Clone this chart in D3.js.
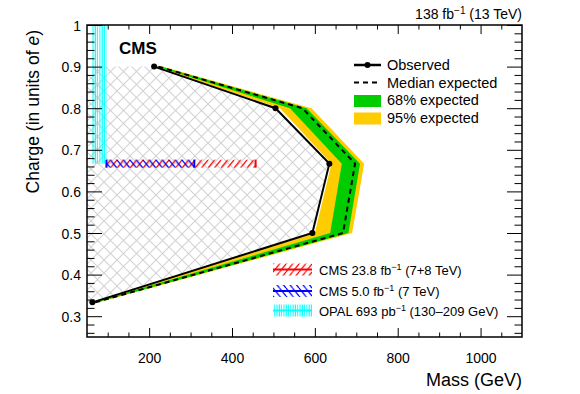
<!DOCTYPE html>
<html><head><meta charset="utf-8">
<script src="https://cdn.jsdelivr.net/npm/d3@7"></script>
<style>
body{margin:0;background:#fff}
text{font-family:"Liberation Sans",Arial,Helvetica,sans-serif;fill:#000}
</style>
</head><body>
<svg id="c" width="580" height="394"></svg>
<script>
// ---- data ----
const charge   = [1/3, 0.5, 2/3, 0.8, 0.9];
const observed = [63, 594, 635, 505, 212];
const expected = [70, 668, 697, 570, 222];
const exp68Lo  = [66, 637, 665, 540, 218];
const exp68Hi  = [75, 681, 709, 580, 227];
const exp95Lo  = [63, 600, 640, 516, 214];
const exp95Hi  = [79, 690, 719, 592, 232];
const opalMass = [62, 97];
const opalCharge = [2/3, 1.0];
const cms7Mass = [97, 309];
const cms8Mass = [97, 457];
const priorCharge = 2/3;
const xTicks = [200, 400, 600, 800, 1000];
const yTicks = [0.3, 0.4, 0.5, 0.6, 0.7, 0.8, 0.9, 1.0];
const xMinor = d3.range(100, 1100, 50);
const yMinor = d3.range(0.26, 1.0, 0.02);

// ---- layout ----
const L = 87, R = 522, T = 25, B = 337;
const x = d3.scaleLinear([50, 1100], [L, R]);
const y = d3.scaleLinear([0.25, 1.0], [B, T]);
const svg = d3.select("#c");
const defs = svg.append("defs");
defs.append("clipPath").attr("id","plot").append("rect")
  .attr("x",L).attr("y",T).attr("width",R-L).attr("height",B-T);

function pat(id, w, h, lines, color, sw){
  const p = defs.append("pattern").attr("id",id).attr("patternUnits","userSpaceOnUse")
    .attr("width",w).attr("height",h);
  lines.forEach(l => p.append("line").attr("x1",l[0]).attr("y1",l[1]).attr("x2",l[2]).attr("y2",l[3])
    .attr("stroke",color).attr("stroke-width",sw));
}
pat("gray", 13, 13, [[0,0,13,13],[0,13,13,0]], "#d2d2d2", 1.1);
pat("red", 6.5, 8, [[0,8,6.5,0],[-3.25,4,0,0],[6.5,8,9.75,4]], "#ff0000", 1.2);
pat("blue", 6.5, 8, [[0,0,6.5,8],[-3.25,4,0,8],[6.5,0,9.75,4]], "#0000ff", 1.2);
pat("cyan", 2.3, 10, [[1,0,1,10]], "#00ffff", 1.1);

const g = svg.append("g").attr("clip-path","url(#plot)");

// excluded region (hatched)
const excl = [[50, charge[4]]];
for (let i = charge.length-1; i >= 0; i--) excl.push([observed[i], charge[i]]);
excl.push([50, charge[0]]);
const poly = d3.line().x(d=>x(d[0])).y(d=>y(d[1]));
g.append("path").attr("d", poly(excl)+"Z").attr("fill","url(#gray)");

function band(lo, hi){
  const pts = charge.map((c,i)=>[lo[i],c]);
  for (let i = charge.length-1; i>=0; i--) pts.push([hi[i],charge[i]]);
  return poly(pts)+"Z";
}
g.append("path").attr("d", band(exp95Lo, exp95Hi)).attr("fill","#ffcc00");
g.append("path").attr("d", band(exp68Lo, exp68Hi)).attr("fill","#00cc00");

// previous limits
const py0 = y(priorCharge) - 4;
g.append("rect").attr("x",x(opalMass[0])).attr("width",x(opalMass[1])-x(opalMass[0]))
  .attr("y",y(opalCharge[1])).attr("height",y(opalCharge[0])-y(opalCharge[1])).attr("fill","url(#cyan)");
g.append("rect").attr("x",x(cms8Mass[0])).attr("width",x(cms8Mass[1])-x(cms8Mass[0]))
  .attr("y",py0).attr("height",8).attr("fill","url(#red)");
g.append("rect").attr("x",x(cms7Mass[0])).attr("width",x(cms7Mass[1])-x(cms7Mass[0]))
  .attr("y",py0).attr("height",8).attr("fill","url(#blue)");
[[cms8Mass[1],"#ff0000"],[cms7Mass[0],"#0000ff"],[cms7Mass[1],"#0000ff"]].forEach(d=>{
  g.append("line").attr("x1",x(d[0])).attr("x2",x(d[0])).attr("y1",py0).attr("y2",py0+8)
   .attr("stroke",d[1]).attr("stroke-width",2);
});

// lines
const ln = d3.line().x((d,i)=>x(d)).y((d,i)=>y(charge[i]));
g.append("path").attr("d", ln(expected)).attr("fill","none").attr("stroke","#000")
  .attr("stroke-width",2).attr("stroke-dasharray","5,4");
g.append("path").attr("d", ln(observed)).attr("fill","none").attr("stroke","#000").attr("stroke-width",2);
svg.selectAll(".pt").data(observed).enter().append("circle")
  .attr("cx",d=>x(d)).attr("cy",(d,i)=>y(charge[i])).attr("r",3).attr("fill","#000");

// axes
const ax = svg.append("g");
function tickAxis(axisFn, scale, vals, size, transform, labels, fmt){
  const a = axisFn(scale).tickValues(vals).tickSize(size).tickPadding(labels?5:0)
    .tickFormat(labels ? fmt : "");
  const gg = ax.append("g").attr("transform",transform).call(a);
  gg.select(".domain").remove();
  gg.selectAll("line").attr("stroke","#000").attr("stroke-width",1);
  return gg;
}
// bottom
const xb = tickAxis(d3.axisBottom, x, xTicks, -9, `translate(0,${B})`, true, d3.format("d"));
xb.selectAll("text").attr("font-size",14).attr("font-family","Liberation Sans, Arial, sans-serif").attr("dy",0).attr("y",26);
tickAxis(d3.axisBottom, x, xMinor.filter(v=>!xTicks.includes(v)), -4.5, `translate(0,${B})`, false);
tickAxis(d3.axisTop, x, xTicks, -9, `translate(0,${T})`, false);
tickAxis(d3.axisTop, x, xMinor.filter(v=>!xTicks.includes(v)), -4.5, `translate(0,${T})`, false);
// left
const isMajor = v => yTicks.some(t=>Math.abs(t-v)<1e-6);
const yl = tickAxis(d3.axisLeft, y, yTicks, -15, `translate(${L},0)`, true, d=>d===1?"1":d.toFixed(1));
yl.selectAll("text").attr("font-size",14).attr("font-family","Liberation Sans, Arial, sans-serif").attr("x",-6).attr("dy","0.36em");
tickAxis(d3.axisLeft, y, yMinor.filter(v=>!isMajor(v)), -7.5, `translate(${L},0)`, false);
tickAxis(d3.axisRight, y, yTicks, -15, `translate(${R},0)`, false);
tickAxis(d3.axisRight, y, yMinor.filter(v=>!isMajor(v)), -7.5, `translate(${R},0)`, false);
// frame
svg.append("rect").attr("x",L).attr("y",T).attr("width",R-L).attr("height",B-T)
  .attr("fill","none").attr("stroke","#000").attr("stroke-width",1.5);

// titles
svg.append("text").attr("x",R).attr("y",386).attr("text-anchor","end").attr("font-size",18).text("Mass (GeV)");
const yt = svg.append("text").attr("transform","translate(39,30) rotate(-90)").attr("text-anchor","end").attr("font-size",17.5);
yt.append("tspan").text("Charge (in units of ");
yt.append("tspan").attr("font-style","italic").text("e");
yt.append("tspan").text(")");
svg.append("text").attr("x",119).attr("y",54).attr("font-size",17).attr("font-weight","bold").text("CMS");
const lumi = svg.append("text").attr("x",R).attr("y",19).attr("text-anchor","end").attr("font-size",14);
lumi.append("tspan").text("138 fb");
lumi.append("tspan").attr("dy",-5).attr("font-size",10).text("\u22121");
lumi.append("tspan").attr("dy",5).text(" (13 TeV)");

// legend top
const lx0 = 354, lx1 = 381, tx = 387;
const leg = svg.append("g");
leg.append("line").attr("x1",lx0).attr("x2",lx1).attr("y1",65).attr("y2",65).attr("stroke","#000").attr("stroke-width",2.5);
leg.append("circle").attr("cx",(lx0+lx1)/2).attr("cy",65).attr("r",3).attr("fill","#000");
leg.append("line").attr("x1",lx0).attr("x2",lx1).attr("y1",82.5).attr("y2",82.5).attr("stroke","#000").attr("stroke-width",2).attr("stroke-dasharray","5,4");
leg.append("rect").attr("x",lx0).attr("y",95).attr("width",lx1-lx0).attr("height",12).attr("fill","#00cc00");
leg.append("rect").attr("x",lx0).attr("y",112.5).attr("width",lx1-lx0).attr("height",12).attr("fill","#ffcc00");
const legText = ["Observed","Median expected","68% expected","95% expected"];
const legY = [70, 87.5, 105, 123];
legText.forEach((t,i)=>leg.append("text").attr("x",tx).attr("y",legY[i]).attr("font-size",14.5).text(t));

// legend bottom
const pl = [
  {c:"#ff0000", p:"red", y:269.5, a:"CMS 23.8 fb", b:" (7+8 TeV)"},
  {c:"#0000ff", p:"blue", y:291, a:"CMS 5.0 fb", b:" (7 TeV)"},
  {c:"#00ffff", p:"cyan", y:310.5, a:"OPAL 693 pb", b:" (130\u2013209 GeV)"}
];
pl.forEach(d=>{
  leg.append("rect").attr("x",273).attr("y",d.y-6).attr("width",39).attr("height",12).attr("fill",`url(#${d.p})`);
  leg.append("line").attr("x1",273).attr("x2",312).attr("y1",d.y).attr("y2",d.y).attr("stroke",d.c).attr("stroke-width",2);
  const t = leg.append("text").attr("x",319).attr("y",d.y+5).attr("font-size",13);
  t.append("tspan").text(d.a);
  t.append("tspan").attr("dy",-5).attr("font-size",9).text("\u22121");
  t.append("tspan").attr("dy",5).text(d.b);
});
</script>
</body></html>
